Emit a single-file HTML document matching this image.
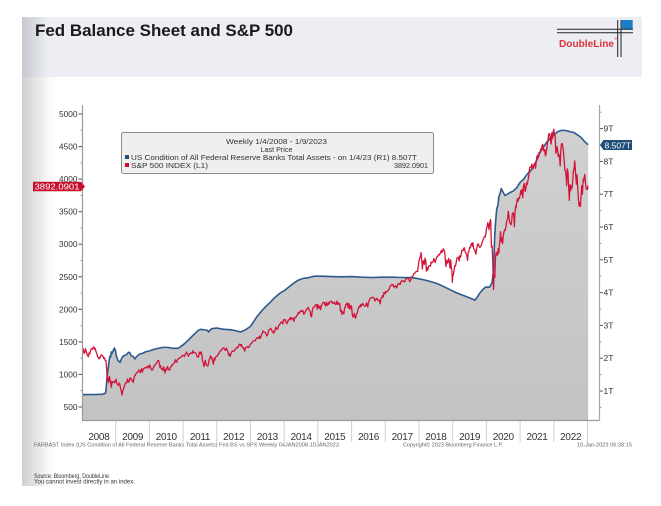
<!DOCTYPE html>
<html><head><meta charset="utf-8"><style>
html,body{margin:0;padding:0;background:#fff;}
svg{display:block;}
text{font-family:"Liberation Sans",Arial,sans-serif;}
</style></head><body>
<svg width="661" height="506" viewBox="0 0 661 506" xmlns="http://www.w3.org/2000/svg">
<defs>
<linearGradient id="lgBody" x1="0" x2="1" y1="0" y2="0">
<stop offset="0" stop-color="#cfcfcf"/><stop offset="0.5" stop-color="#ececec"/><stop offset="1" stop-color="#ffffff" stop-opacity="0"/>
</linearGradient>
<linearGradient id="lgHead" x1="0" x2="1" y1="0" y2="0">
<stop offset="0" stop-color="#c6c9cf"/><stop offset="1" stop-color="#eceef3"/>
</linearGradient>
<linearGradient id="lgFill" x1="0" x2="0" y1="0" y2="1">
<stop offset="0" stop-color="#c3c3c3"/><stop offset="1" stop-color="#d0d0d0"/>
</linearGradient>
</defs>
<rect x="0" y="0" width="661" height="506" fill="#fff"/>
<!-- slide left shading -->
<rect x="22" y="77" width="38" height="409" fill="url(#lgBody)"/>
<!-- header band -->
<rect x="22" y="17" width="620" height="60" fill="#eceef3"/>
<rect x="22" y="17" width="26" height="60" fill="url(#lgHead)"/>
<text x="35" y="36" font-size="17" font-weight="bold" fill="#1a1a1a" textLength="258" lengthAdjust="spacingAndGlyphs">Fed Balance Sheet and S&amp;P 500</text>
<!-- logo -->
<rect x="621.7" y="20" width="11" height="9" fill="#1b7ccc"/>
<line x1="557" y1="29.3" x2="633" y2="29.3" stroke="#222" stroke-width="1"/>
<line x1="557" y1="32.7" x2="633" y2="32.7" stroke="#222" stroke-width="1"/>
<line x1="617.7" y1="20" x2="617.7" y2="57" stroke="#222" stroke-width="1"/>
<line x1="621" y1="20" x2="621" y2="57" stroke="#222" stroke-width="1"/>
<text x="559" y="47" font-size="10.5" font-weight="bold" fill="#e0333a" textLength="55" lengthAdjust="spacingAndGlyphs">DoubleLine</text>
<text x="614.5" y="40" font-size="3.5" fill="#e0333a">®</text>

<!-- Fed fill -->
<g transform="matrix(33.7 0 0 -32.8 82 423.8)">
<polygon fill="url(#lgFill)" stroke="none" points="0,0.116 0,0.89 0.3,0.89 0.6,0.90 0.69,0.93 0.71,1.0 0.73,1.26 0.75,1.49 0.77,1.62 0.79,1.80 0.81,1.97 0.83,2.06 0.85,2.04 0.87,2.19 0.89,2.14 0.92,2.22 0.96,2.31 0.99,2.24 1.02,2.07 1.06,1.95 1.10,1.90 1.13,1.87 1.17,1.98 1.21,2.05 1.25,2.08 1.29,2.09 1.33,2.12 1.38,2.18 1.42,2.17 1.46,2.07 1.52,2.05 1.57,1.98 1.62,2.05 1.70,2.12 1.80,2.15 1.90,2.20 2.00,2.22 2.10,2.26 2.25,2.30 2.40,2.33 2.55,2.33 2.70,2.30 2.85,2.30 2.95,2.37 3.05,2.45 3.15,2.55 3.25,2.65 3.35,2.75 3.45,2.85 3.52,2.88 3.65,2.86 3.72,2.85 3.76,2.80 3.80,2.86 3.85,2.90 4.00,2.92 4.20,2.88 4.40,2.87 4.55,2.84 4.70,2.80 4.80,2.84 4.90,2.90 5.00,2.97 5.10,3.12 5.20,3.28 5.30,3.40 5.40,3.52 5.50,3.62 5.60,3.72 5.70,3.83 5.80,3.92 5.90,4.00 6.00,4.06 6.10,4.14 6.20,4.22 6.30,4.30 6.40,4.37 6.50,4.41 6.60,4.44 6.70,4.45 6.80,4.48 6.90,4.50 7.10,4.50 7.40,4.49 7.70,4.48 8.00,4.49 8.30,4.47 8.60,4.46 8.90,4.47 9.20,4.47 9.50,4.46 9.75,4.46 9.90,4.44 10.10,4.40 10.30,4.35 10.50,4.29 10.70,4.20 10.90,4.10 11.10,4.00 11.30,3.92 11.50,3.84 11.66,3.77 11.72,3.85 11.80,3.98 11.90,4.10 11.98,4.17 12.10,4.17 12.17,4.31 12.21,4.67 12.23,5.25 12.25,5.80 12.27,6.10 12.29,6.37 12.31,6.57 12.33,6.62 12.35,6.72 12.37,6.93 12.40,7.00 12.44,7.17 12.48,7.09 12.55,6.96 12.62,7.00 12.70,7.05 12.80,7.10 12.90,7.20 13.00,7.36 13.10,7.45 13.20,7.60 13.30,7.70 13.40,7.85 13.50,8.05 13.60,8.30 13.70,8.45 13.80,8.60 13.90,8.73 14.00,8.79 14.10,8.90 14.20,8.94 14.30,8.95 14.40,8.93 14.50,8.90 14.60,8.88 14.70,8.81 14.80,8.74 14.90,8.62 14.97,8.55 15.02,8.507 15.02,0.116"/>
<polyline fill="none" stroke="#2c5a8c" stroke-width="1.6" stroke-linejoin="round" vector-effect="non-scaling-stroke" points="0,0.89 0.3,0.89 0.6,0.90 0.69,0.93 0.71,1.0 0.73,1.26 0.75,1.49 0.77,1.62 0.79,1.80 0.81,1.97 0.83,2.06 0.85,2.04 0.87,2.19 0.89,2.14 0.92,2.22 0.96,2.31 0.99,2.24 1.02,2.07 1.06,1.95 1.10,1.90 1.13,1.87 1.17,1.98 1.21,2.05 1.25,2.08 1.29,2.09 1.33,2.12 1.38,2.18 1.42,2.17 1.46,2.07 1.52,2.05 1.57,1.98 1.62,2.05 1.70,2.12 1.80,2.15 1.90,2.20 2.00,2.22 2.10,2.26 2.25,2.30 2.40,2.33 2.55,2.33 2.70,2.30 2.85,2.30 2.95,2.37 3.05,2.45 3.15,2.55 3.25,2.65 3.35,2.75 3.45,2.85 3.52,2.88 3.65,2.86 3.72,2.85 3.76,2.80 3.80,2.86 3.85,2.90 4.00,2.92 4.20,2.88 4.40,2.87 4.55,2.84 4.70,2.80 4.80,2.84 4.90,2.90 5.00,2.97 5.10,3.12 5.20,3.28 5.30,3.40 5.40,3.52 5.50,3.62 5.60,3.72 5.70,3.83 5.80,3.92 5.90,4.00 6.00,4.06 6.10,4.14 6.20,4.22 6.30,4.30 6.40,4.37 6.50,4.41 6.60,4.44 6.70,4.45 6.80,4.48 6.90,4.50 7.10,4.50 7.40,4.49 7.70,4.48 8.00,4.49 8.30,4.47 8.60,4.46 8.90,4.47 9.20,4.47 9.50,4.46 9.75,4.46 9.90,4.44 10.10,4.40 10.30,4.35 10.50,4.29 10.70,4.20 10.90,4.10 11.10,4.00 11.30,3.92 11.50,3.84 11.66,3.77 11.72,3.85 11.80,3.98 11.90,4.10 11.98,4.17 12.10,4.17 12.17,4.31 12.21,4.67 12.23,5.25 12.25,5.80 12.27,6.10 12.29,6.37 12.31,6.57 12.33,6.62 12.35,6.72 12.37,6.93 12.40,7.00 12.44,7.17 12.48,7.09 12.55,6.96 12.62,7.00 12.70,7.05 12.80,7.10 12.90,7.20 13.00,7.36 13.10,7.45 13.20,7.60 13.30,7.70 13.40,7.85 13.50,8.05 13.60,8.30 13.70,8.45 13.80,8.60 13.90,8.73 14.00,8.79 14.10,8.90 14.20,8.94 14.30,8.95 14.40,8.93 14.50,8.90 14.60,8.88 14.70,8.81 14.80,8.74 14.90,8.62 14.97,8.55 15.02,8.507"/>
</g>

<!-- S&P 500 -->
<g transform="matrix(33.7 0 0 -0.0651 82 439.55)">
<polyline fill="none" stroke="#d2143a" stroke-width="1.3" stroke-linejoin="round" vector-effect="non-scaling-stroke" points="0,1411 0.02,1401 0.04,1380 0.06,1325 0.08,1330 0.10,1395 0.12,1367 0.14,1331 0.16,1293 0.19,1273 0.21,1330 0.23,1315 0.25,1360 0.27,1390 0.29,1397 0.31,1388 0.33,1413 0.35,1425 0.37,1388 0.39,1400 0.41,1360 0.44,1318 0.46,1278 0.48,1262 0.50,1240 0.52,1260 0.54,1257 0.56,1296 0.58,1298 0.60,1292 0.62,1282 0.65,1242 0.67,1255 0.69,1213 0.71,1214 0.73,1100 0.75,899 0.77,940 0.79,876 0.81,968 0.83,930 0.85,873 0.87,800 0.89,896 0.91,876 0.93,880 0.95,888 0.97,872 0.99,903 1.01,927 1.03,870 1.05,850 1.07,832 1.09,845 1.11,869 1.13,826 1.15,770 1.17,735 1.19,683 1.21,756 1.23,768 1.25,815 1.27,842 1.29,869 1.31,866 1.33,877 1.35,930 1.37,883 1.40,888 1.42,940 1.44,946 1.46,922 1.48,918 1.50,896 1.52,879 1.54,940 1.56,979 1.58,987 1.60,1010 1.62,1026 1.64,1028 1.66,1042 1.68,1068 1.71,1044 1.73,1025 1.75,1072 1.77,1087 1.79,1036 1.81,1069 1.83,1093 1.85,1091 1.87,1106 1.90,1106 1.92,1102 1.94,1126 1.96,1115 1.98,1102 2.00,1145 2.02,1136 2.04,1092 2.06,1073 2.08,1066 2.10,1075 2.12,1104 2.15,1138 2.17,1150 2.19,1160 2.21,1167 2.23,1194 2.25,1212 2.27,1217 2.29,1187 2.31,1111 2.33,1136 2.35,1087 2.37,1089 2.40,1064 2.42,1118 2.44,1076 2.46,1022 2.48,1078 2.50,1064 2.52,1103 2.54,1121 2.56,1079 2.58,1071 2.60,1065 2.62,1104 2.65,1125 2.67,1148 2.69,1146 2.71,1165 2.73,1176 2.75,1183 2.77,1225 2.79,1199 2.81,1189 2.83,1223 2.85,1240 2.87,1243 2.90,1256 2.92,1258 2.94,1271 2.96,1286 3.00,1293 3.02,1283 3.04,1276 3.06,1307 3.08,1321 3.10,1343 3.12,1320 3.14,1304 3.16,1279 3.18,1313 3.21,1319 3.23,1332 3.25,1328 3.27,1320 3.29,1363 3.31,1340 3.33,1337 3.35,1333 3.37,1331 3.40,1300 3.42,1270 3.44,1271 3.46,1268 3.48,1339 3.50,1344 3.52,1316 3.54,1345 3.56,1292 3.58,1199 3.60,1178 3.62,1123 3.64,1176 3.66,1216 3.68,1154 3.71,1136 3.73,1131 3.75,1155 3.77,1224 3.79,1238 3.81,1285 3.83,1253 3.85,1263 3.87,1216 3.90,1158 3.92,1244 3.94,1219 3.96,1265 4.00,1278 4.02,1289 4.04,1315 4.06,1316 4.08,1344 4.10,1361 4.12,1366 4.14,1370 4.17,1404 4.19,1397 4.21,1408 4.23,1398 4.25,1370 4.27,1378 4.29,1403 4.31,1369 4.33,1353 4.35,1295 4.37,1317 4.40,1278 4.42,1325 4.44,1342 4.46,1362 4.48,1354 4.50,1356 4.52,1362 4.54,1386 4.56,1390 4.58,1405 4.60,1418 4.62,1411 4.65,1437 4.67,1465 4.69,1460 4.71,1440 4.73,1460 4.75,1428 4.77,1411 4.79,1414 4.81,1380 4.83,1359 4.85,1409 4.87,1416 4.90,1418 4.92,1430 4.94,1413 4.96,1426 5.00,1466 5.02,1472 5.04,1486 5.06,1503 5.08,1513 5.10,1517 5.12,1519 5.14,1516 5.17,1551 5.19,1560 5.21,1557 5.23,1569 5.25,1553 5.27,1588 5.29,1555 5.31,1582 5.33,1614 5.35,1634 5.37,1667 5.40,1650 5.42,1649 5.44,1643 5.46,1626 5.48,1592 5.50,1606 5.52,1632 5.54,1680 5.56,1692 5.58,1691 5.60,1709 5.62,1691 5.65,1655 5.67,1664 5.69,1633 5.71,1655 5.73,1688 5.75,1725 5.77,1709 5.79,1691 5.81,1703 5.83,1744 5.85,1759 5.87,1770 5.90,1798 5.92,1805 5.94,1806 5.96,1775 5.98,1841 6.00,1831 6.02,1842 6.04,1838 6.06,1790 6.08,1782 6.10,1797 6.12,1838 6.14,1836 6.17,1859 6.19,1878 6.21,1841 6.23,1866 6.25,1857 6.27,1865 6.29,1815 6.31,1864 6.33,1881 6.35,1878 6.37,1900 6.40,1923 6.42,1950 6.44,1936 6.46,1962 6.48,1960 6.50,1985 6.52,1967 6.54,1978 6.56,1978 6.58,1925 6.60,1931 6.62,1955 6.65,1988 6.67,2003 6.69,2007 6.71,2031 6.73,2010 6.75,1982 6.77,1968 6.79,1906 6.81,1886 6.83,1964 6.85,2018 6.87,2031 6.90,2039 6.92,2063 6.94,2067 6.96,2075 6.98,2002 7.00,2070 7.02,2044 7.04,2019 7.06,2051 7.08,1995 7.10,2055 7.12,2068 7.14,2096 7.17,2110 7.19,2104 7.21,2071 7.23,2053 7.25,2108 7.27,2061 7.29,2067 7.31,2102 7.33,2081 7.35,2116 7.37,2122 7.40,2126 7.42,2107 7.44,2092 7.46,2094 7.48,2110 7.50,2101 7.52,2077 7.54,2076 7.56,2127 7.58,2080 7.60,2103 7.62,2077 7.65,2091 7.67,1971 7.69,1989 7.71,1922 7.73,1961 7.75,1958 7.77,1931 7.79,2014 7.81,2033 7.83,2075 7.85,2079 7.87,2099 7.90,2023 7.92,2089 7.94,2012 7.96,2005 7.98,2060 8.00,2044 8.02,1922 8.04,1880 8.06,1906 8.08,1940 8.10,1880 8.12,1864 8.14,1917 8.17,1948 8.19,1999 8.21,2022 8.23,2050 8.25,2035 8.27,2072 8.29,2048 8.31,2081 8.33,2091 8.35,2065 8.37,2057 8.40,2046 8.42,2052 8.44,2099 8.46,2071 8.48,2037 8.50,2103 8.52,2129 8.54,2161 8.56,2175 8.58,2173 8.60,2182 8.62,2184 8.65,2183 8.67,2169 8.69,2128 8.71,2139 8.73,2164 8.75,2168 8.77,2153 8.79,2133 8.81,2141 8.83,2126 8.85,2085 8.87,2164 8.90,2181 8.92,2213 8.94,2191 8.96,2259 8.98,2258 9.00,2238 9.02,2276 9.04,2274 9.06,2271 9.08,2294 9.10,2297 9.12,2316 9.14,2351 9.17,2367 9.19,2383 9.21,2372 9.23,2378 9.25,2344 9.27,2343 9.29,2362 9.31,2355 9.33,2328 9.35,2348 9.37,2384 9.40,2399 9.42,2390 9.44,2381 9.46,2415 9.48,2439 9.50,2431 9.52,2433 9.54,2438 9.56,2423 9.58,2425 9.60,2459 9.62,2472 9.65,2476 9.67,2472 9.69,2476 9.71,2441 9.73,2425 9.75,2443 9.77,2477 9.79,2500 9.81,2502 9.83,2519 9.85,2549 9.87,2553 9.90,2575 9.92,2581 9.94,2587 9.96,2582 9.98,2673 10.00,2743 10.02,2786 10.04,2810 10.06,2872 10.08,2762 10.10,2620 10.12,2732 10.14,2747 10.16,2691 10.18,2786 10.20,2752 10.22,2588 10.24,2641 10.26,2604 10.28,2656 10.30,2670 10.32,2669 10.34,2663 10.36,2728 10.38,2712 10.40,2721 10.42,2735 10.44,2779 10.46,2754 10.48,2718 10.50,2760 10.52,2801 10.54,2802 10.56,2818 10.58,2840 10.60,2833 10.62,2850 10.64,2874 10.66,2902 10.68,2872 10.70,2905 10.72,2930 10.74,2914 10.76,2885 10.78,2767 10.80,2658 10.82,2755 10.84,2711 10.86,2723 10.88,2781 10.90,2736 10.92,2633 10.94,2760 10.96,2633 10.975,2599 10.99,2416 11.00,2506 11.02,2532 11.04,2596 11.06,2670 11.08,2665 11.10,2707 11.12,2775 11.14,2792 11.17,2803 11.19,2743 11.21,2822 11.23,2800 11.25,2834 11.27,2907 11.29,2907 11.31,2905 11.33,2939 11.35,2945 11.37,2881 11.40,2859 11.42,2826 11.44,2752 11.46,2873 11.48,2886 11.50,2950 11.52,2942 11.54,2990 11.56,3013 11.58,2976 11.60,3025 11.62,2932 11.65,2918 11.67,2888 11.69,2847 11.71,2926 11.73,2979 11.75,3007 11.77,2992 11.79,2961 11.81,2952 11.83,2970 11.85,2986 11.87,3023 11.90,3066 11.92,3093 11.94,3120 11.96,3110 11.98,3140 12.00,3235 12.02,3265 12.04,3330 12.06,3295 12.08,3225 12.10,3328 12.12,3380 12.13,3338 12.15,2954 12.17,2972 12.19,2711 12.21,2305 12.23,2541 12.25,2489 12.27,2790 12.29,2875 12.31,2837 12.33,2831 12.35,2930 12.37,2864 12.38,2955 12.40,3044 12.42,3194 12.44,3041 12.46,3098 12.48,3009 12.50,3130 12.52,3185 12.54,3224 12.56,3216 12.58,3271 12.60,3351 12.62,3373 12.63,3397 12.65,3508 12.67,3427 12.69,3341 12.71,3319 12.73,3298 12.75,3348 12.77,3477 12.79,3483 12.81,3465 12.83,3270 12.85,3509 12.87,3585 12.88,3557 12.90,3638 12.92,3699 12.94,3663 12.96,3709 12.98,3703 13.00,3756 13.02,3824 13.04,3768 13.06,3841 13.08,3714 13.10,3887 13.12,3934 13.13,3906 13.15,3811 13.17,3842 13.19,3943 13.21,3913 13.23,3974 13.25,4019 13.27,4128 13.29,4185 13.31,4180 13.33,4181 13.35,4232 13.37,4173 13.38,4155 13.40,4204 13.42,4230 13.44,4247 13.46,4166 13.48,4281 13.50,4352 13.52,4369 13.54,4327 13.56,4411 13.58,4395 13.60,4437 13.62,4468 13.63,4441 13.65,4509 13.67,4535 13.69,4458 13.71,4432 13.73,4455 13.75,4357 13.77,4391 13.79,4471 13.81,4545 13.83,4605 13.85,4697 13.87,4682 13.88,4697 13.90,4595 13.92,4538 13.94,4712 13.96,4620 13.98,4726 14.00,4766 14.02,4677 14.04,4662 14.06,4398 14.08,4432 14.10,4500 14.12,4419 14.13,4349 14.15,4385 14.17,4329 14.19,4204 14.21,4463 14.23,4543 14.25,4546 14.27,4488 14.29,4393 14.31,4272 14.33,4132 14.35,4123 14.37,4024 14.38,3901 14.40,4158 14.42,4108 14.44,3901 14.46,3675 14.48,3912 14.50,3825 14.52,3899 14.54,3863 14.56,3962 14.58,4130 14.60,4145 14.62,4280 14.63,4228 14.65,4057 14.67,3924 14.69,4067 14.71,3873 14.73,3693 14.75,3586 14.77,3640 14.79,3583 14.81,3753 14.83,3901 14.85,3771 14.87,3993 14.88,3965 14.90,4026 14.92,4072 14.94,3934 14.96,3852 14.98,3845 15.00,3840 15.01,3895 15.02,3892"/>
</g>

<!-- axes -->
<line x1="82.5" y1="105" x2="82.5" y2="420.5" stroke="#9a9a9a" stroke-width="1.2"/>
<line x1="82" y1="420.5" x2="599.5" y2="420.5" stroke="#9a9a9a" stroke-width="1.2"/>
<line x1="599.5" y1="105" x2="599.5" y2="420.5" stroke="#a8a8a8" stroke-width="1.2"/>

<!-- year dividers -->
<g stroke="#cfcfcf" stroke-width="1">
<line x1="115.7" y1="421" x2="115.7" y2="442"/><line x1="149.4" y1="421" x2="149.4" y2="442"/><line x1="183.1" y1="421" x2="183.1" y2="442"/><line x1="216.8" y1="421" x2="216.8" y2="442"/><line x1="250.5" y1="421" x2="250.5" y2="442"/><line x1="284.2" y1="421" x2="284.2" y2="442"/><line x1="317.9" y1="421" x2="317.9" y2="442"/><line x1="351.6" y1="421" x2="351.6" y2="442"/><line x1="385.3" y1="421" x2="385.3" y2="442"/><line x1="419" y1="421" x2="419" y2="442"/><line x1="452.7" y1="421" x2="452.7" y2="442"/><line x1="486.4" y1="421" x2="486.4" y2="442"/><line x1="520.1" y1="421" x2="520.1" y2="442"/><line x1="553.8" y1="421" x2="553.8" y2="442"/><line x1="587.5" y1="421" x2="587.5" y2="442"/>
</g>
<g font-size="10" fill="#333" text-anchor="middle" letter-spacing="-0.3">
<text x="98.9" y="440">2008</text><text x="132.6" y="440">2009</text><text x="166.3" y="440">2010</text><text x="200" y="440">2011</text><text x="233.7" y="440">2012</text><text x="267.4" y="440">2013</text><text x="301.1" y="440">2014</text><text x="334.8" y="440">2015</text><text x="368.5" y="440">2016</text><text x="402.2" y="440">2017</text><text x="435.9" y="440">2018</text><text x="469.6" y="440">2019</text><text x="503.3" y="440">2020</text><text x="537" y="440">2021</text><text x="570.7" y="440">2022</text>
</g>

<!-- left ticks -->
<g stroke="#555" stroke-width="1">
<line x1="78.5" y1="114" x2="82" y2="114"/><line x1="78.5" y1="146.6" x2="82" y2="146.6"/><line x1="78.5" y1="179.1" x2="82" y2="179.1"/><line x1="78.5" y1="211.7" x2="82" y2="211.7"/><line x1="78.5" y1="244.2" x2="82" y2="244.2"/><line x1="78.5" y1="276.8" x2="82" y2="276.8"/><line x1="78.5" y1="309.3" x2="82" y2="309.3"/><line x1="78.5" y1="341.9" x2="82" y2="341.9"/><line x1="78.5" y1="374.4" x2="82" y2="374.4"/><line x1="78.5" y1="407" x2="82" y2="407"/>
</g>
<g stroke="#999" stroke-width="1">
<line x1="80.5" y1="130.3" x2="82" y2="130.3"/><line x1="80.5" y1="162.8" x2="82" y2="162.8"/><line x1="80.5" y1="195.4" x2="82" y2="195.4"/><line x1="80.5" y1="228" x2="82" y2="228"/><line x1="80.5" y1="260.5" x2="82" y2="260.5"/><line x1="80.5" y1="293" x2="82" y2="293"/><line x1="80.5" y1="325.6" x2="82" y2="325.6"/><line x1="80.5" y1="358.1" x2="82" y2="358.1"/><line x1="80.5" y1="390.7" x2="82" y2="390.7"/>
</g>
<g font-size="8.3" fill="#333" text-anchor="end">
<text x="77.5" y="117">5000</text><text x="77.5" y="149.6">4500</text><text x="77.5" y="182.1">4000</text><text x="77.5" y="214.7">3500</text><text x="77.5" y="247.2">3000</text><text x="77.5" y="279.8">2500</text><text x="77.5" y="312.3">2000</text><text x="77.5" y="344.9">1500</text><text x="77.5" y="377.4">1000</text><text x="77.5" y="410">500</text>
</g>

<!-- right ticks -->
<g stroke="#555" stroke-width="1">
<line x1="600" y1="128.6" x2="603" y2="128.6"/><line x1="600" y1="161.4" x2="603" y2="161.4"/><line x1="600" y1="194.2" x2="603" y2="194.2"/><line x1="600" y1="227" x2="603" y2="227"/><line x1="600" y1="259.8" x2="603" y2="259.8"/><line x1="600" y1="292.6" x2="603" y2="292.6"/><line x1="600" y1="325.4" x2="603" y2="325.4"/><line x1="600" y1="358.2" x2="603" y2="358.2"/><line x1="600" y1="391" x2="603" y2="391"/>
</g>
<g stroke="#999" stroke-width="1">
<line x1="600" y1="112.2" x2="601.5" y2="112.2"/><line x1="600" y1="145" x2="601.5" y2="145"/><line x1="600" y1="177.8" x2="601.5" y2="177.8"/><line x1="600" y1="210.6" x2="601.5" y2="210.6"/><line x1="600" y1="243.4" x2="601.5" y2="243.4"/><line x1="600" y1="276.2" x2="601.5" y2="276.2"/><line x1="600" y1="309" x2="601.5" y2="309"/><line x1="600" y1="341.8" x2="601.5" y2="341.8"/><line x1="600" y1="374.6" x2="601.5" y2="374.6"/><line x1="600" y1="407.4" x2="601.5" y2="407.4"/>
</g>
<g font-size="8.5" fill="#333">
<text x="603.5" y="131.6">9T</text><text x="603.5" y="164.4">8T</text><text x="603.5" y="197.2">7T</text><text x="603.5" y="230">6T</text><text x="603.5" y="262.8">5T</text><text x="603.5" y="295.6">4T</text><text x="603.5" y="328.4">3T</text><text x="603.5" y="361.2">2T</text><text x="603.5" y="394">1T</text>
</g>

<!-- last value labels -->
<polygon points="33,181.7 81,181.7 85,186.5 81,191.3 33,191.3" fill="#c8102e"/>
<text x="34.5" y="189.6" font-size="8.2" fill="#fff" textLength="45" lengthAdjust="spacingAndGlyphs">3892.0901</text>
<polygon points="600,145 603.5,140 632,140 632,150 603.5,150" fill="#1f4e79"/>
<text x="604.5" y="148.5" font-size="8.2" fill="#fff" textLength="26.5" lengthAdjust="spacingAndGlyphs">8.507T</text>

<!-- legend -->
<rect x="121.5" y="132.5" width="312" height="41" rx="2" ry="2" fill="#efefef" stroke="#8c8c8c" stroke-width="1"/>
<text x="276.5" y="144" font-size="7.2" fill="#333" text-anchor="middle" textLength="101" lengthAdjust="spacingAndGlyphs">Weekly 1/4/2008 - 1/9/2023</text>
<text x="276.5" y="152" font-size="7.2" fill="#333" text-anchor="middle">Last Price</text>
<rect x="125" y="155" width="4" height="4" fill="#1f4e79"/>
<text x="131" y="160" font-size="7.2" fill="#333" textLength="286" lengthAdjust="spacingAndGlyphs">US Condition of All Federal Reserve Banks Total Assets -  on 1/4/23  (R1) 8.507T</text>
<rect x="125" y="163" width="4" height="4" fill="#c8102e"/>
<text x="131" y="168" font-size="7.2" fill="#333" textLength="77" lengthAdjust="spacingAndGlyphs">S&amp;P 500 INDEX  (L1)</text>
<text x="428" y="168" font-size="7.2" fill="#333" text-anchor="end">3892.0901</text>

<!-- footer -->
<text x="34" y="446.5" font-size="5.3" fill="#666" textLength="305" lengthAdjust="spacingAndGlyphs">FARBAST Index (US Condition of All Federal Reserve Banks Total Assets) Fed BS vs SPX  Weekly 04JAN2008-10JAN2023</text>
<text x="403" y="446.5" font-size="5.3" fill="#666" textLength="100" lengthAdjust="spacingAndGlyphs">Copyright© 2023 Bloomberg Finance L.P.</text>
<text x="577" y="446.5" font-size="5.3" fill="#666" textLength="55" lengthAdjust="spacingAndGlyphs">10-Jan-2023 06:38:15</text>
<text x="34" y="478" font-size="6" fill="#333" textLength="75" lengthAdjust="spacingAndGlyphs">Source: Bloomberg, DoubleLine</text>
<text x="34" y="483.7" font-size="6" fill="#333" textLength="101" lengthAdjust="spacingAndGlyphs">You cannot invest directly in an index.</text>
</svg>
</body></html>
